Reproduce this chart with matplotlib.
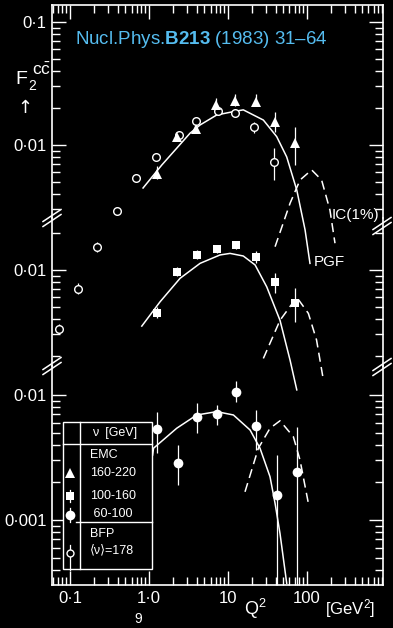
import numpy as np
import matplotlib.pyplot as plt
from matplotlib.lines import Line2D
from matplotlib.patches import Rectangle
from matplotlib.ticker import NullFormatter

plt.rcParams['font.family'] = ['Liberation Sans', 'DejaVu Sans']
plt.rcParams['mathtext.fontset'] = 'custom'
plt.rcParams['mathtext.rm'] = 'Liberation Sans'
plt.rcParams['mathtext.bf'] = 'Liberation Sans:bold'
plt.rcParams['mathtext.it'] = 'Liberation Sans:italic'
plt.rcParams['mathtext.default'] = 'regular'

# ---- data (Q^2 in GeV^2, F2cc) ----
# top panel: BFP <nu>=178 (open circles) and EMC 160-220 (triangles)
bfp_q2 = [0.072, 0.125, 0.222, 0.39, 0.68, 1.23, 2.42, 3.93, 7.5, 12.1, 21.3, 38.2]
bfp_f = [0.00032, 0.00068, 0.00147, 0.0029, 0.0054, 0.0080, 0.0121, 0.0158, 0.0190, 0.0181, 0.0141, 0.0073]
bfp_lo = [0.00029, 0.00061, 0.00134, 0.0029, 0.0054, 0.0080, 0.0121, 0.0158, 0.0190, 0.0181, 0.0124, 0.0052]
bfp_hi = [0.00035, 0.00075, 0.00162, 0.0029, 0.0054, 0.0080, 0.0121, 0.0158, 0.0190, 0.0181, 0.0155, 0.0094]

emc1_q2 = [1.25, 2.28, 3.93, 6.98, 12.3, 22.4, 39.4, 70.5]
emc1_f = [0.0058, 0.0116, 0.0135, 0.0211, 0.0228, 0.0225, 0.0155, 0.0104]
emc1_lo = [0.0053, 0.0107, 0.0125, 0.0195, 0.0208, 0.0207, 0.0128, 0.0069]
emc1_hi = [0.0068, 0.0128, 0.0150, 0.0240, 0.0262, 0.0258, 0.0187, 0.0141]

pgf1_q2 = [0.84, 1.45, 3.3, 4.43, 7.2, 11.7, 15.6, 28, 41.3, 55.3, 74.2, 94.5, 109]
pgf1_f = [0.00447, 0.00687, 0.01245, 0.01455, 0.01754, 0.01867, 0.0193, 0.01595, 0.0117, 0.0080, 0.0043, 0.00204, 0.00109]
ic1_q2 = [39.4, 61, 81.5, 114.5, 153, 195, 226]
ic1_f = [0.00149, 0.00336, 0.00519, 0.00627, 0.00519, 0.00296, 0.00159]

# middle panel: EMC 100-160 (squares)
emc2_q2 = [1.27, 2.28, 4.02, 7.2, 12.5, 22.4, 39.4, 70.5]
emc2_f = [0.0045, 0.0097, 0.01324, 0.0148, 0.01596, 0.01268, 0.0080, 0.00536]
emc2_lo = [0.0041, 0.0089, 0.0122, 0.0137, 0.0148, 0.0115, 0.0065, 0.00377]
emc2_hi = [0.0050, 0.0106, 0.0145, 0.0161, 0.0172, 0.0142, 0.00945, 0.00714]

pgf2_q2 = [0.81, 1.38, 2.47, 4.43, 7.9, 10.6, 15.6, 22, 30.9, 45.5, 61, 74.2]
pgf2_f = [0.0035, 0.00552, 0.00856, 0.01133, 0.01325, 0.01365, 0.0130, 0.0110, 0.0073, 0.0039, 0.00185, 0.00106]
ic2_q2 = [28, 45.5, 74.2, 104, 132, 161]
ic2_f = [0.00191, 0.0039, 0.0060, 0.00444, 0.0027, 0.00128]

# bottom panel: EMC 60-100 (filled circles)
emc3_q2 = [1.25, 2.3, 4.1, 7.2, 12.7, 22.5, 41.3, 74.2]
emc3_f = [0.0053, 0.00287, 0.0067, 0.0070, 0.0106, 0.00565, 0.00158, 0.00243]
emc3_lo = [0.00343, 0.0019, 0.00497, 0.00575, 0.0088, 0.00363, 0.0003, 0.0003]
emc3_hi = [0.00731, 0.00398, 0.00863, 0.00832, 0.01294, 0.00759, 0.00331, 0.00555]

pgf3_q2 = [1.11, 1.14, 2.24, 4.02, 7.2, 11.7, 19, 25.4, 34, 39.4, 45.5, 55.3]
pgf3_f = [0.00331, 0.00375, 0.00542, 0.00692, 0.00736, 0.00692, 0.00525, 0.00375, 0.00222, 0.00136, 0.00078, 0.000312]
ic3_q2 = [16.4, 24.2, 34, 45.5, 67.1, 81.5, 104]
ic3_f = [0.00168, 0.00375, 0.00542, 0.00622, 0.00464, 0.00302, 0.00136]

xticks = [0.1, 1, 10, 100]
xticklabels = ['0·1', '1·0', '10', '100']

W, H = 393, 628
fig = plt.figure(figsize=(W / 100, H / 100), dpi=100, facecolor='black')


def px(x, y):
    return x / W, 1 - y / H


def panel(top, bottom, ylim):
    ax = fig.add_axes([52 / W, 1 - bottom / H, 331 / W, (bottom - top) / H])
    ax.set_facecolor('none')
    ax.set_xscale('log')
    ax.set_yscale('log')
    ax.set_xlim(0.0591, 916)
    ax.set_ylim(*ylim)
    for s in ax.spines.values():
        s.set_color('white')
        s.set_linewidth(1.2)
    ax.tick_params(which='both', direction='in', colors='white', width=1.0,
                   left=True, right=True, top=False, bottom=False,
                   labelbottom=False, labelsize=12, pad=4)
    ax.tick_params(which='major', length=10)
    ax.tick_params(which='minor', length=5.5)
    ax.yaxis.set_minor_formatter(NullFormatter())
    ax.xaxis.set_minor_formatter(NullFormatter())
    return ax


def points(ax, q2, f, lo, hi, marker, ms, mfc, mew=0.0):
    f = np.array(f)
    yerr = [f - np.array(lo), np.array(hi) - f]
    c = ax.errorbar(q2, f, yerr=yerr, fmt=marker, ms=ms, mfc=mfc, mec='white', mew=mew,
                    ecolor='white', elinewidth=0.9, capsize=0, zorder=4)
    for a in c.get_children():
        a.set_clip_on(False)


def curves(ax, q2a, fa, q2b, fb):
    ax.plot(q2a, fa, color='white', lw=1.1, clip_on=False)
    ax.plot(q2b, fb, color='white', lw=1.1, ls=(0, (6, 3.5)), clip_on=False)


ax1 = panel(5, 218, (0.002549, 0.1374))
ax2 = panel(218, 366, (0.001658, 0.02648))
ax3 = panel(366, 585, (0.000302, 0.01706))

ax1.spines['bottom'].set_visible(False)
ax2.spines['top'].set_visible(False)
ax2.spines['bottom'].set_visible(False)
ax3.spines['top'].set_visible(False)

ax1.tick_params(axis='x', which='both', top=True)
ax3.tick_params(axis='x', which='both', bottom=True, labelbottom=True)
ax3.set_xticks(xticks, xticklabels)
ax1.set_xticks(xticks)

ax1.set_yticks([0.1, 0.01], ['0·1', '0·01'])
ax2.set_yticks([0.01], ['0·01'])
ax3.set_yticks([0.01, 0.001], ['0·01', '0·001'])

curves(ax1, pgf1_q2, pgf1_f, ic1_q2, ic1_f)
curves(ax2, pgf2_q2, pgf2_f, ic2_q2, ic2_f)
curves(ax3, pgf3_q2, pgf3_f, ic3_q2, ic3_f)

points(ax1, bfp_q2, bfp_f, bfp_lo, bfp_hi, 'o', 5.5, 'black', mew=1.0)
points(ax1, emc1_q2, emc1_f, emc1_lo, emc1_hi, '^', 6.5, 'white')
points(ax2, emc2_q2, emc2_f, emc2_lo, emc2_hi, 's', 6.0, 'white')
points(ax3, emc3_q2, emc3_f, emc3_lo, emc3_hi, 'o', 7.0, 'white')

# axis breaks
for (bx, by) in [(52, 218), (52, 366), (382, 226), (382, 367)]:
    for dy in (-2.5, 2.5):
        x0, y0 = px(bx - 9, by + dy + 6)
        x1, y1 = px(bx + 9, by + dy - 6)
        fig.add_artist(Line2D([x0, x1], [y0, y1], color='white', lw=1.1))

# legend box
lx, ly = px(63, 569)
fig.add_artist(Rectangle((lx, ly), 89 / W, 147 / H, transform=fig.transFigure,
                         facecolor='black', edgecolor='white', lw=1.0, zorder=5))
for (xa, ya, xb, yb) in [(80, 422, 80, 569), (63, 444, 152, 444), (76, 522, 152, 522)]:
    a, b = px(xa, ya)
    c, d = px(xb, yb)
    fig.add_artist(Line2D([a, c], [b, d], color='white', lw=1.0, zorder=6))

leg_txt = [('ν  [GeV]', 92, 433), ('EMC', 90, 455), ('160-220', 90, 473),
           ('100-160', 90, 496), (' 60-100', 90, 514), ('BFP', 90, 534), ('⟨ν⟩=178', 90, 550)]
for t, x, y in leg_txt:
    fig.text(*px(x, y), t, color='white', fontsize=9, va='center', ha='left', zorder=7)

for m, y, ms, fc, mew in [('^', 473, 6.5, 'white', 0), ('s', 496, 6, 'white', 0),
                          ('o', 515, 7, 'white', 0), ('o', 553, 5, 'black', 1.0)]:
    a, b = px(70, y)
    fig.add_artist(Line2D([a], [b], marker=m, ms=ms, mfc=fc, mec='white', mew=mew,
                          ls='none', zorder=7))
for (ya, yb) in [(490, 502), (508, 522), (545, 570)]:
    a, b = px(70, ya)
    c, d = px(70, yb)
    fig.add_artist(Line2D([a, c], [b, d], color='white', lw=0.9, zorder=6.5))

# texts
fig.text(*px(75, 40), r'Nucl.Phys.$\mathbf{B213}$ (1983) 31–64', color='#55bcef',
         fontsize=13.5, va='center', ha='left')
# F2 with c cbar superscript, built from pieces
fig.text(*px(15, 80), 'F', color='white', fontsize=14, va='center', ha='left')
fig.text(*px(28, 86), '2', color='white', fontsize=10, va='center', ha='left')
fig.text(*px(32, 70), r'$c\bar{c}$', color='white', fontsize=12.5, va='center', ha='left')
fig.text(*px(25, 108), '↑', color='white', fontsize=13, va='center', ha='center',
         family=['DejaVu Sans'])
fig.text(*px(355, 215), 'IC(1%)', color='white', fontsize=11, va='center', ha='center')
fig.text(*px(329, 262), 'PGF', color='white', fontsize=11, va='center', ha='center')
fig.text(*px(255, 609), r'Q$^2$', color='white', fontsize=13, va='center', ha='center')
fig.text(*px(350, 609), r'[GeV$^2$]', color='white', fontsize=12, va='center', ha='center')
fig.text(*px(138, 619), '9', color='white', fontsize=10, va='center', ha='center')

fig.savefig('out.png', dpi=100, facecolor='black')
